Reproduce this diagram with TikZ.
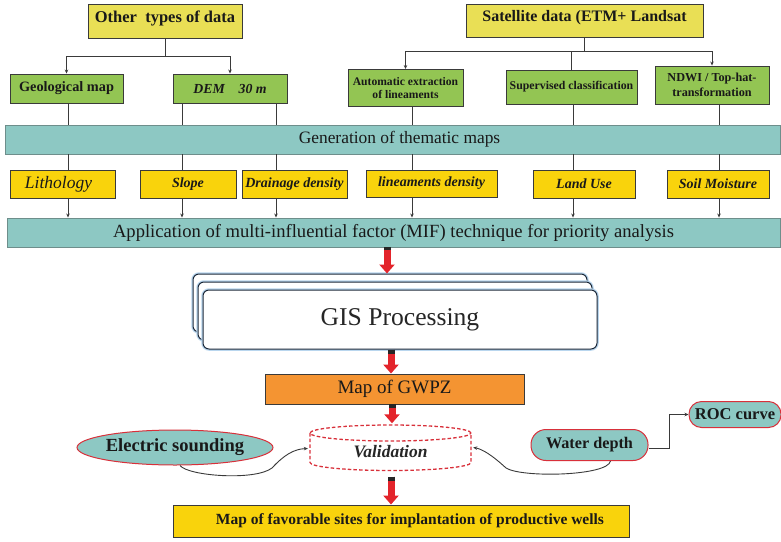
\documentclass[tikz,border=0pt]{standalone}
\usepackage{fontspec}
\setmainfont{Liberation Serif}
\usetikzlibrary{arrows.meta,calc,shapes.geometric}
\definecolor{ylwtop}{HTML}{E9DF55}
\definecolor{grn}{HTML}{93C553}
\definecolor{teal1}{HTML}{8DC8C3}
\definecolor{gold}{HTML}{F9D30C}
\definecolor{orng}{HTML}{F49432}
\definecolor{bordc}{HTML}{3A3A3A}
\definecolor{barbord}{HTML}{6E8E8B}
\definecolor{redb}{HTML}{D8303A}
\definecolor{arrred}{HTML}{E3242B}
\definecolor{glow}{HTML}{B9D6EE}
\definecolor{gisline}{HTML}{1E2A3A}
\begin{document}
\begin{tikzpicture}[x=1pt,y=-1pt,
  box/.style={draw=bordc, line width=0.9pt, inner sep=1pt, align=center, text=black!90},
  topbox/.style={box, fill=ylwtop, text height=8pt, text depth=5.5pt},
  grnbox/.style={box, fill=grn},
  bar/.style={draw=barbord, line width=0.9pt, fill=teal1, inner sep=1pt, text=black!90},
  mapbox/.style={box, fill=gold, font=\fontsize{14}{16}\selectfont\bfseries\itshape},
  conn/.style={draw=bordc, line width=0.8pt},
  tarr/.style={conn, -{Stealth[length=4pt,width=3.5pt]}},
  redarr/.style={line width=7pt, draw=arrred, -{Triangle[width=15pt,length=9pt]}},
  redtop/.style={line width=7pt, draw=black!85},
  gisbox/.style={draw=gisline, line width=1pt, fill=white, rounded corners=6pt,
     preaction={draw=glow, line width=3.5pt}},
  pillbox/.style={draw=redb, line width=1pt, fill=teal1, text=black!90},
  curv/.style={draw=bordc, line width=0.9pt, -{Stealth[length=4pt,width=3.5pt]}}
]
\useasboundingbox (0,0) rectangle (781,541);

% top boxes
\node[topbox, minimum width=154pt, minimum height=34pt, font=\fontsize{16.5}{18}\selectfont\bfseries] (other) at (165,21) {Other\ \ types of data};
\node[topbox, minimum width=237pt, minimum height=33pt, font=\fontsize{16}{18}\selectfont\bfseries] (sat) at (584.5,20.5) {Satellite data (ETM+ Landsat};

% green boxes
\node[grnbox, minimum width=113pt, minimum height=29pt, font=\fontsize{14.3}{16}\selectfont\bfseries] (geo) at (66.5,88.5) {Geological map};
\node[grnbox, minimum width=114pt, minimum height=29pt, font=\fontsize{13.8}{16}\selectfont\bfseries\itshape] (dem) at (230,88.5) {DEM\quad 30 m};
\node[grnbox, minimum width=115pt, minimum height=37pt, font=\fontsize{11.6}{13.5}\selectfont\bfseries] (auto) at (405.5,88) {Automatic extraction\\of lineaments};
\node[grnbox, minimum width=131pt, minimum height=34pt, font=\fontsize{11.8}{14}\selectfont\bfseries] (sup) at (571.5,87) {Supervised classification};
\node[grnbox, minimum width=114pt, minimum height=38pt, font=\fontsize{12.2}{14.5}\selectfont\bfseries] (ndwi) at (712,85) {NDWI / Top-hat-\\transformation};

% thematic bar
\node[bar, minimum width=775pt, minimum height=29pt, font=\fontsize{17.4}{19}\selectfont] (gen) at (392.5,139.5) {\hspace{14pt}Generation of thematic maps};

% thematic maps
\node[mapbox, minimum width=105pt, minimum height=28pt, font=\fontsize{17.5}{19}\selectfont\itshape] (lith) at (62.5,184) {Lithology\hspace{8pt}};
\node[mapbox, minimum width=96pt, minimum height=28pt] (slope) at (188,184) {Slope};
\node[mapbox, minimum width=105pt, minimum height=28pt] (drain) at (294.5,184) {Drainage density};
\node[mapbox, minimum width=131pt, minimum height=27pt] (linea) at (431.5,183.5) {lineaments density};
\node[mapbox, minimum width=102pt, minimum height=28pt] (land) at (584,184) {Land Use};
\node[mapbox, minimum width=102pt, minimum height=28pt] (soil) at (718,184) {Soil Moisture};

% application bar
\node[bar, minimum width=773pt, minimum height=29pt, font=\fontsize{18.6}{20}\selectfont] (app) at (393.5,232.5) {Application of multi-influential factor (MIF) technique for priority analysis\hspace{20pt}};

% GIS processing stack
\node[gisbox, minimum width=394pt, minimum height=58pt] (gisb) at (390,303) {};
\node[gisbox, minimum width=394pt, minimum height=58pt] (gism) at (395,311) {};
\node[gisbox, minimum width=394pt, minimum height=59pt, font=\fontsize{25.6}{28}\selectfont, text=black!85] (gis) at (400,319.5) {GIS Processing};

% GWPZ
\node[box, fill=orng, minimum width=259pt, minimum height=30pt, font=\fontsize{19}{21}\selectfont] (gwpz) at (394.5,389) {Map of GWPZ};

% validation cylinder
\node[minimum width=161pt, minimum height=46pt, inner sep=0pt, text height=19pt, text depth=0pt, font=\fontsize{17.5}{19}\selectfont\bfseries\itshape, text=black!85] (valid) at (390.5,447.5) {Validation};
\begin{scope}[shift={(valid.center)}, draw=redb, line width=1.3pt, dash pattern=on 3.5pt off 2.2pt]
  \draw (0,-14.5) ellipse [x radius=80.5pt, y radius=8pt];
  \draw (-80.5,-14.5) -- (-80.5,15) arc [start angle=180, end angle=360, x radius=80.5pt, y radius=8pt] -- (80.5,-14.5);
\end{scope}

% side nodes
\node[ellipse, draw=redb, line width=1pt, fill=teal1, minimum width=196pt, minimum height=35pt, inner sep=0pt, font=\fontsize{18.5}{20}\selectfont\bfseries, text=black!90] (elec) at (175,447.5) {Electric sounding};
\node[pillbox, rounded corners=15pt, minimum width=117pt, minimum height=31pt, font=\fontsize{16.2}{18}\selectfont\bfseries] (water) at (589.5,445) {Water depth};
\node[pillbox, rounded corners=12.5pt, minimum width=92pt, minimum height=26pt, font=\fontsize{16.5}{18}\selectfont\bfseries] (roc) at (735,414.5) {ROC curve};

% final box
\node[box, fill=gold, minimum width=456pt, minimum height=32pt, font=\fontsize{15.5}{17}\selectfont\bfseries] (final) at (401,521) {\hspace{18pt}Map of favorable sites for implantation of productive wells};

% ---------- connectors ----------
\coordinate (oj) at ($(other.south)+(0,18)$);
\draw[tarr] (other.south) -- (oj) -| (geo.north);
\draw[tarr] (oj) -| (dem.north);
\coordinate (sj) at ($(sat.south)+(0,14)$);
\draw[tarr] (sat.south) -- (sj) -| (auto.north);
\draw[tarr] (sj) -| (ndwi.north);
\draw[conn] (sup.north |- sj) -- (sup.north);

\coordinate (c1) at (68,0);
\coordinate (c2) at (182,0);
\coordinate (c3) at (276,0);
\coordinate (c4) at (412,0);
\coordinate (c5) at (573,0);
\coordinate (c6) at (719,0);

\draw[conn] (geo.south -| c1) -- (gen.north -| c1);
\draw[conn] (dem.south -| c2) -- (gen.north -| c2);
\draw[conn] (dem.south -| c3) -- (gen.north -| c3);
\draw[conn] (auto.south -| c4) -- (gen.north -| c4);
\draw[conn] (sup.south -| c5) -- (gen.north -| c5);
\draw[conn] (ndwi.south -| c6) -- (gen.north -| c6);

\draw[conn] (gen.south -| c1) -- (lith.north -| c1);
\draw[conn] (gen.south -| c2) -- (slope.north -| c2);
\draw[conn] (gen.south -| c3) -- (drain.north -| c3);
\draw[conn] (gen.south -| c4) -- (linea.north -| c4);
\draw[conn] (gen.south -| c5) -- (land.north -| c5);
\draw[conn] (gen.south -| c6) -- (soil.north -| c6);

\draw[tarr] (lith.south -| c1) -- (app.north -| c1);
\draw[tarr] (slope.south -| c2) -- (app.north -| c2);
\draw[tarr] (drain.south -| c3) -- (app.north -| c3);
\draw[tarr] (linea.south -| c4) -- (app.north -| c4);
\draw[tarr] (land.south -| c5) -- (app.north -| c5);
\draw[tarr] (soil.south -| c6) -- (app.north -| c6);

% red arrows
\coordinate (r1) at (387,0);
\coordinate (r2) at (391,0);
\coordinate (r3) at (392,0);
\draw[redarr] (app.south -| r1) -- (gisb.north -| r1);
\draw[redtop] (app.south -| r1) -- ++(0,3);
\draw[redarr] (gis.south -| r2) -- (gwpz.north -| r2);
\draw[redtop] (gis.south -| r2) -- ++(0,4);
\draw[redarr] (gwpz.south -| r3) -- ($(valid.north -| r3)+(0,-1)$);
\draw[redtop] (gwpz.south -| r3) -- ++(0,4);
\draw[redarr] ($(valid.south -| r2)+(0,6)$) -- (final.north -| r2);
\draw[redtop] ($(valid.south -| r2)+(0,6)$) -- ++(0,4);

% curved connectors
\draw[curv] ($(elec.south)+(5,0)$) .. controls (188,476) and (255,481) .. (272,468)
   .. controls (284,455) and (294,449) .. ($(valid.west)+(-2,1)$);
\draw[curv] ($(water.south)+(21,0)$) .. controls (608,476) and (522,478) .. (506,468)
   .. controls (492,455) and (482,449) .. ($(valid.east)+(2,0)$);
\draw[conn, -{Stealth[length=4pt,width=3.5pt]}] ($(water.east)+(0,3)$) -- ++(21,0) |- (roc.west);

\end{tikzpicture}
\end{document}
